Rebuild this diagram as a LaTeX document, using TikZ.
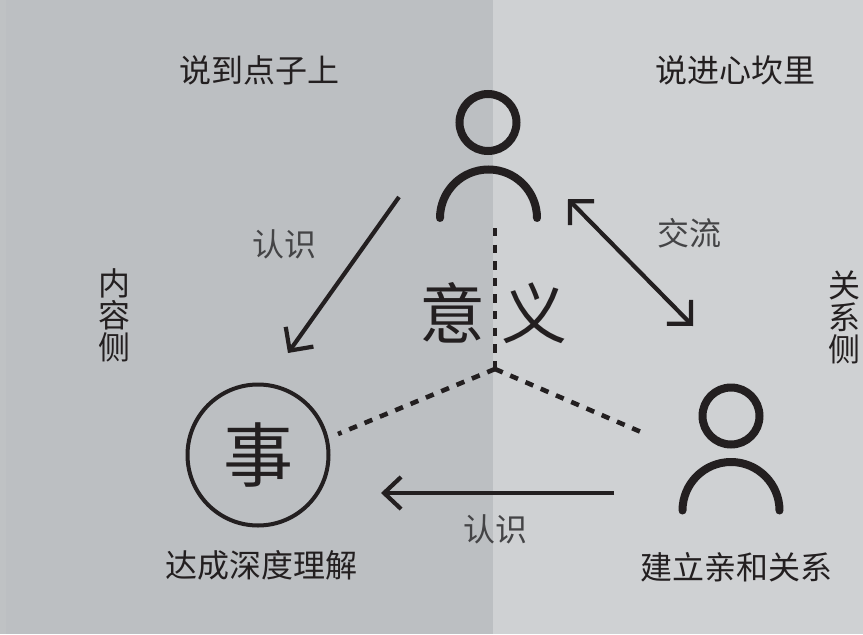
\documentclass[tikz,border=0pt]{standalone}
\usepackage{fontspec}
\newfontfamily\cjk{Noto Sans CJK SC}
\usetikzlibrary{arrows.meta,positioning,calc}
\definecolor{inkc}{HTML}{231F20}
\definecolor{thinc}{HTML}{444446}
\definecolor{leftc}{HTML}{BCBFC2}
\definecolor{rightc}{HTML}{CFD1D3}
\tikzset{
    label32/.style={text=inkc,inner sep=0pt,align=center,font=\cjk\fontsize{32}{32}\selectfont},
    thin32/.style={label32,text=thinc},
    big62/.style={label32,font=\cjk\fontsize{66}{66}\selectfont},
    head/.style={circle,draw=inkc,line width=8pt,minimum size=57pt,inner sep=0pt},
    body/.style={draw=inkc,line width=8pt,line cap=round},
    dashline/.style={draw=inkc,line width=4.6pt,dash pattern=on 8.4pt off 8.2pt},
    arrowline/.style={draw=inkc,line width=4.2pt}
}
\begin{document}
\begin{tikzpicture}[x=1pt,y=1pt]
    \useasboundingbox(0,0)rectangle(863,-635);
    \fill[leftc](0,0)rectangle(493,-634);
    \fill[rightc](493,0)rectangle(863,-634);
    \fill[leftc!96!white](0,0)rectangle(6,-634);
    % top person
    \node[head](h0)at(488,-122.5){};
    \draw[body](440,-218)arc[start angle=180,end angle=0,radius=48.5pt];
    % right person
    \node[head](h1)at(731,-416){};
    \draw[body](682.5,-510.5)arc[start angle=180,end angle=0,radius=48.5pt];
    % circle
    \node[circle,draw=inkc,line width=4pt,minimum size=141pt,inner sep=0pt,big62,font=\cjk\fontsize{70}{70}\selectfont](s0)at(258,-455){事};
    % centre text
    \node[big62](m0)at(452,-313){意};
    \node[big62](m1)at(534,-313){义};
    % labels
    \node[label32](t0)at(259,-70){说到点子上};
    \node[label32](t1)at(735,-70){说进心坎里};
    \node[label32](t2)at(114,-315){内\\容\\侧};
    \node[label32](t3)at(844,-317){关\\系\\侧};
    \node[label32](t4)at(261,-565){达成深度理解};
    \node[label32](t5)at(736,-567){建立亲和关系};
    \node[thin32](t6)at(284,-244){认识};
    \node[thin32](t7)at(689,-233){交流};
    \node[thin32](t8)at(495,-529){认识};
    % free ends
    \coordinate(c0)at(495,-369);
    \coordinate(c1)at(495,-228);
    \coordinate(c2)at(338,-434);
    \coordinate(c3)at(641,-432);
    \coordinate(a0)at(399,-197);
    \coordinate(a1)at(288,-353);
    \coordinate(a2)at(568,-199);
    \coordinate(a3)at(693,-326);
    \coordinate(a4)at(614,-493);
    \coordinate(a5)at(381,-493);
    % dashes
    \path[dashline](c1)--(c0);
    \path[dashline](c0)--(c2);
    \path[dashline](c0)--(c3);
    % arrows
    \path[arrowline,-{Straight Barb[length=17pt,width=34pt]}](a0)--(a1);
    \path[arrowline,{Straight Barb[length=17pt,width=34pt]}-{Straight Barb[length=17pt,width=34pt]}](a2)--(a3);
    \path[arrowline,-{Straight Barb[length=17pt,width=32pt]}](a4)--(a5);
\end{tikzpicture}
\end{document}
